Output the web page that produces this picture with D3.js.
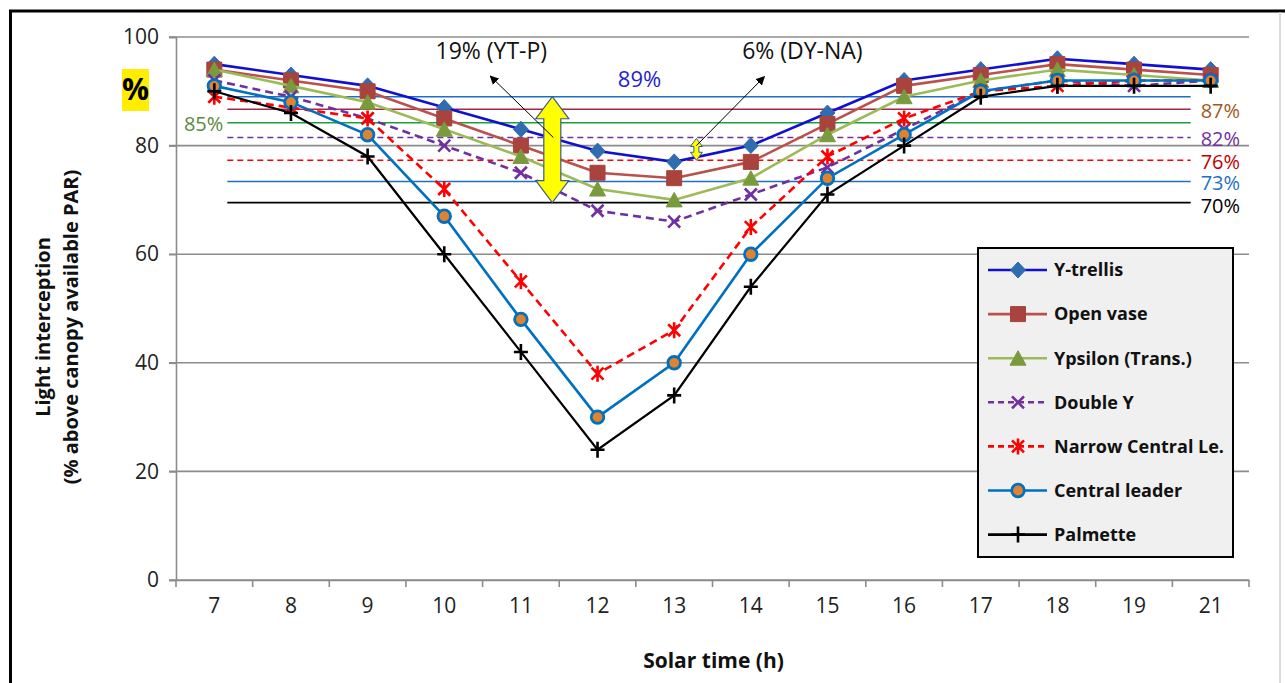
<!DOCTYPE html>
<html>
<head>
<meta charset="utf-8">
<script src="https://cdn.jsdelivr.net/npm/d3@7"></script>
<style>
  body { margin: 0; background: #fff; }
  text { font-family: "Open Sans", "Noto Sans", sans-serif; }
</style>
</head>
<body>
<div id="chart"></div>
<script>
// Solar time categories (20 h is missing in the original)
const hours = ["7", "8", "9", "10", "11", "12", "13", "14", "15", "16", "17", "18", "19", "21"];
const yTicks = [0, 20, 40, 60, 80, 100];

// Light interception per training system (% of above canopy PAR)
const yTrellis      = [95, 93, 91, 87, 83, 79, 77, 80, 86, 92, 94, 96, 95, 94];
const openVase      = [94, 92, 90, 85, 80, 75, 74, 77, 84, 91, 93, 95, 94, 93];
const ypsilon       = [94, 91, 88, 83, 78, 72, 70, 74, 82, 89, 92, 94, 93, 92];
const doubleY       = [92, 89, 85, 80, 75, 68, 66, 71, 76, 83, 90, 92, 91, 92];
const narrowCentral = [89, 87, 85, 72, 55, 38, 46, 65, 78, 85, 90, 91, 92, 92];
const centralLeader = [91, 88, 82, 67, 48, 30, 40, 60, 74, 82, 90, 92, 92, 92];
const palmette      = [90, 86, 78, 60, 42, 24, 34, 54, 71, 80, 89, 91, 91, 91];

// daily mean lines drawn across the chart
const meanValues = [89, 86.7, 84.2, 81.5, 77.3, 73.4, 69.5];
const meanLabels = ["89%", "87%", "85%", "82%", "76%", "73%", "70%"];

const series = [
    { name: "Y-trellis", values: yTrellis, line: "#1010d0", marker: "diamond", mfill: "#2f6db0", mstroke: "#2f6db0", dash: null },
    { name: "Open vase", values: openVase, line: "#b9514c", marker: "square", mfill: "#a8433e", mstroke: "#a8433e", dash: null },
    { name: "Ypsilon (Trans.)", values: ypsilon, line: "#9bbb59", marker: "triangle", mfill: "#7a9a3e", mstroke: "#7a9a3e", dash: null },
    { name: "Double Y", values: doubleY, line: "#7030a0", marker: "cross", mfill: "none", mstroke: "#7030a0", dash: "8,5" },
    { name: "Narrow Central Le.", values: narrowCentral, line: "#ff0000", marker: "star", mfill: "none", mstroke: "#ff0000", dash: "8,5" },
    { name: "Central leader", values: centralLeader, line: "#0070c0", marker: "circle", mfill: "#e0822e", mstroke: "#0070c0", dash: null },
    { name: "Palmette", values: palmette, line: "#000000", marker: "plus", mfill: "none", mstroke: "#000000", dash: null }
];

const meanStyles = [
    { stroke: "#1f6fc8", dash: null, label: "#1f1fd0" },
    { stroke: "#a0284a", dash: null, label: "#9c5a24" },
    { stroke: "#1aa03c", dash: null, label: "#5b8a3a" },
    { stroke: "#7030a0", dash: "6,4", label: "#7030a0" },
    { stroke: "#ff0000", dash: "6,4", label: "#c00000" },
    { stroke: "#1f6fc8", dash: null, label: "#1f6fc8" },
    { stroke: "#000000", dash: null, label: "#000000" }
];

const W = 1285, H = 683;
const margin = { top: 37, right: 36, bottom: 103, left: 176 };
const width = W - margin.left - margin.right;
const height = H - margin.top - margin.bottom;

const svg = d3.select("#chart").append("svg")
    .attr("width", W)
    .attr("height", H);

// outer frame
svg.append("line").attr("x1", 9).attr("x2", W).attr("y1", 11).attr("y2", 11)
    .attr("stroke", "#000").attr("stroke-width", 3);
svg.append("line").attr("x1", 10.5).attr("x2", 10.5).attr("y1", 10).attr("y2", H)
    .attr("stroke", "#000").attr("stroke-width", 3);
svg.append("line").attr("x1", 1280).attr("x2", 1280).attr("y1", 12).attr("y2", H)
    .attr("stroke", "#d0d0d0").attr("stroke-width", 1.5);

const g = svg.append("g")
    .attr("transform", "translate(" + margin.left + "," + margin.top + ")");

const x = d3.scaleBand().domain(hours).range([0, width]);
const y = d3.scaleLinear().domain([0, 100]).range([height, 0]);
const cx = d => x(d) + x.bandwidth() / 2;

// gridlines
g.append("g").selectAll("line").data(yTicks).join("line")
    .attr("x1", -7).attr("x2", width)
    .attr("y1", d => y(d)).attr("y2", d => y(d))
    .attr("stroke", "#8c8c8c").attr("stroke-width", 1.6);

// y axis
const yAxis = g.append("g")
    .call(d3.axisLeft(y).tickValues(yTicks).tickSize(7).tickPadding(10));
yAxis.select(".domain").attr("stroke", "#8c8c8c").attr("stroke-width", 1.6);
yAxis.selectAll(".tick line").attr("stroke", "#8c8c8c").attr("stroke-width", 1.6);
yAxis.selectAll(".tick text").attr("font-size", 21).attr("fill", "#222")
    .style("font-family", "'Open Sans', sans-serif");

// x axis with ticks between categories
const xAxis = g.append("g")
    .attr("transform", "translate(0," + height + ")")
    .call(d3.axisBottom(x).tickSize(0).tickPadding(18));
xAxis.select(".domain").attr("stroke", "#8c8c8c").attr("stroke-width", 1.6);
xAxis.selectAll(".tick text").attr("font-size", 21).attr("fill", "#222")
    .style("font-family", "'Open Sans', sans-serif");
xAxis.append("g").selectAll("line").data(d3.range(hours.length + 1)).join("line")
    .attr("x1", i => i * x.step()).attr("x2", i => i * x.step())
    .attr("y1", 0).attr("y2", 7)
    .attr("stroke", "#8c8c8c").attr("stroke-width", 1.6);

// axis titles
svg.append("text")
    .attr("x", margin.left + width / 2 + 1).attr("y", 668)
    .attr("text-anchor", "middle").attr("font-size", 21).attr("font-weight", "bold")
    .attr("fill", "#111").text("Solar time (h)");
const yt = svg.append("text")
    .attr("transform", "translate(50,327) rotate(-90)")
    .attr("text-anchor", "middle").attr("font-size", 20).attr("font-weight", "bold")
    .attr("fill", "#111");
yt.append("tspan").attr("x", 0).attr("dy", 0).text("Light interception");
yt.append("tspan").attr("x", 0).attr("dy", 28).text("(% above canopy available PAR)");

// yellow "%" tag
svg.append("rect").attr("x", 122).attr("y", 69).attr("width", 27).attr("height", 42)
    .attr("fill", "#ffee00");
svg.append("text").attr("x", 135.5).attr("y", 100).attr("text-anchor", "middle")
    .attr("font-size", 30).attr("font-weight", "bold").attr("fill", "#000").text("%");

// mean reference lines
const meanX1 = cx("7") + 13, meanX2 = cx("21") - 20;
meanValues.forEach((v, i) => {
    const st = meanStyles[i];
    g.append("line")
        .attr("x1", meanX1).attr("x2", meanX2)
        .attr("y1", y(v)).attr("y2", y(v))
        .attr("stroke", st.stroke).attr("stroke-width", 1.6)
        .attr("stroke-dasharray", st.dash);
});
// mean labels
const labelPos = [
    { x: cx("12") + 42, y: y(meanValues[0]) - 17, anchor: "middle", size: 22 },
    { x: meanX2 + 10, y: y(meanValues[1]) + 2, anchor: "start", size: 20 },
    { x: cx("7") + 9, y: y(meanValues[2]) + 1, anchor: "end", size: 20 },
    { x: meanX2 + 10, y: y(meanValues[3]) + 2, anchor: "start", size: 20 },
    { x: meanX2 + 10, y: y(meanValues[4]) + 2, anchor: "start", size: 20 },
    { x: meanX2 + 10, y: y(meanValues[5]) + 2, anchor: "start", size: 20 },
    { x: meanX2 + 10, y: y(meanValues[6]) + 3, anchor: "start", size: 20 }
];
meanLabels.forEach((t, i) => {
    g.append("text")
        .attr("x", labelPos[i].x).attr("y", labelPos[i].y)
        .attr("dy", "0.35em").attr("text-anchor", labelPos[i].anchor)
        .attr("font-size", labelPos[i].size).attr("fill", meanStyles[i].label).text(t);
});

// markers
function markerPath(type) {
    if (type === "diamond") return "M0,-8L7.5,0L0,8L-7.5,0Z";
    if (type === "square") return "M-7.5,-7.5H7.5V7.5H-7.5Z";
    if (type === "triangle") return "M0,-7.5L8,7H-8Z";
    if (type === "circle") return d3.symbol(d3.symbolCircle, 125)();
    if (type === "cross") return "M-6,-6L6,6M-6,6L6,-6";
    if (type === "star") return "M-6,-6L6,6M-6,6L6,-6M0,-8V8";
    if (type === "plus") return "M-7,0H7M0,-8V8";
}

const line = d3.line().x((d, i) => cx(hours[i])).y(d => y(d));

series.forEach(s => {
    const sg = g.append("g");
    sg.append("path")
        .datum(s.values)
        .attr("d", line)
        .attr("fill", "none")
        .attr("stroke", s.line)
        .attr("stroke-width", s.name === "Palmette" ? 2.2 : 2.6)
        .attr("stroke-dasharray", s.dash);
    sg.selectAll("path.m").data(s.values).join("path")
        .attr("class", "m")
        .attr("transform", (d, i) => "translate(" + cx(hours[i]) + "," + y(d) + ")")
        .attr("d", markerPath(s.marker))
        .attr("fill", s.mfill)
        .attr("stroke", s.mstroke)
        .attr("stroke-width", s.marker === "circle" ? 2.8 : (s.mfill === "none" ? 2.6 : 1));
});

// annotations: yellow double arrows between mean lines
function dblArrow(xc, yTop, yBot, shaft, head, headH) {
    const sw = shaft / 2, hw = head / 2;
    return "M" + xc + "," + yTop +
        "L" + (xc + hw) + "," + (yTop + headH) + "L" + (xc + sw) + "," + (yTop + headH) +
        "L" + (xc + sw) + "," + (yBot - headH) + "L" + (xc + hw) + "," + (yBot - headH) +
        "L" + xc + "," + yBot +
        "L" + (xc - hw) + "," + (yBot - headH) + "L" + (xc - sw) + "," + (yBot - headH) +
        "L" + (xc - sw) + "," + (yTop + headH) + "L" + (xc - hw) + "," + (yTop + headH) + "Z";
}
const bigX = cx("11") + 0.41 * x.step();
g.append("path")
    .attr("d", dblArrow(bigX, y(meanValues[0]), y(meanValues[6]), 17, 33, 22))
    .attr("fill", "#ffff00").attr("stroke", "#3a5a8a").attr("stroke-width", 1.2);
const smallX = cx("13") + 0.29 * x.step();
g.append("path")
    .attr("d", dblArrow(smallX, y(meanValues[3]) + 1, y(meanValues[4]), 5, 12, 8))
    .attr("fill", "#ffff00").attr("stroke", "#3a5a8a").attr("stroke-width", 1);

const defs = svg.append("defs");
defs.append("marker").attr("id", "ah").attr("viewBox", "0 0 10 10")
    .attr("refX", 9).attr("refY", 5).attr("markerWidth", 9).attr("markerHeight", 9)
    .attr("markerUnits", "userSpaceOnUse").attr("orient", "auto")
    .append("path").attr("d", "M0,0L10,5L0,10Z").attr("fill", "#000");

g.append("line")
    .attr("x1", bigX + 1).attr("y1", y(81.5))
    .attr("x2", bigX - 62).attr("y2", y(92.8))
    .attr("stroke", "#000").attr("stroke-width", 1).attr("marker-end", "url(#ah)");
g.append("text").attr("x", bigX - 61).attr("y", 22).attr("text-anchor", "middle")
    .attr("font-size", 23).attr("fill", "#111").text("19% (YT-P)");

g.append("line")
    .attr("x1", smallX).attr("y1", y(80))
    .attr("x2", smallX + 68).attr("y2", y(92.7))
    .attr("stroke", "#000").attr("stroke-width", 1).attr("marker-end", "url(#ah)");
g.append("text").attr("x", smallX + 106).attr("y", 22).attr("text-anchor", "middle")
    .attr("font-size", 23).attr("fill", "#111").text("6% (DY-NA)");

// legend
const lg = svg.append("g").attr("transform", "translate(978,248)");
lg.append("rect").attr("width", 255).attr("height", 309)
    .attr("fill", "#f0f0f0").attr("stroke", "#000").attr("stroke-width", 2);
series.forEach((s, i) => {
    const ly = 22 + i * 44.1;
    const row = lg.append("g").attr("transform", "translate(0," + ly + ")");
    row.append("line").attr("x1", 10).attr("x2", 69).attr("y1", 0).attr("y2", 0)
        .attr("stroke", s.line).attr("stroke-width", 2.6)
        .attr("stroke-dasharray", s.dash ? "6,4" : null);
    row.append("path").attr("transform", "translate(40,0)")
        .attr("d", markerPath(s.marker))
        .attr("fill", s.mfill).attr("stroke", s.mstroke)
        .attr("stroke-width", s.marker === "circle" ? 2.8 : (s.mfill === "none" ? 2.6 : 1));
    row.append("text").attr("x", 76).attr("y", 0).attr("dy", "0.35em")
        .attr("font-size", 18).attr("font-weight", "bold").attr("fill", "#111")
        .text(s.name);
});
</script>
</body>
</html>
